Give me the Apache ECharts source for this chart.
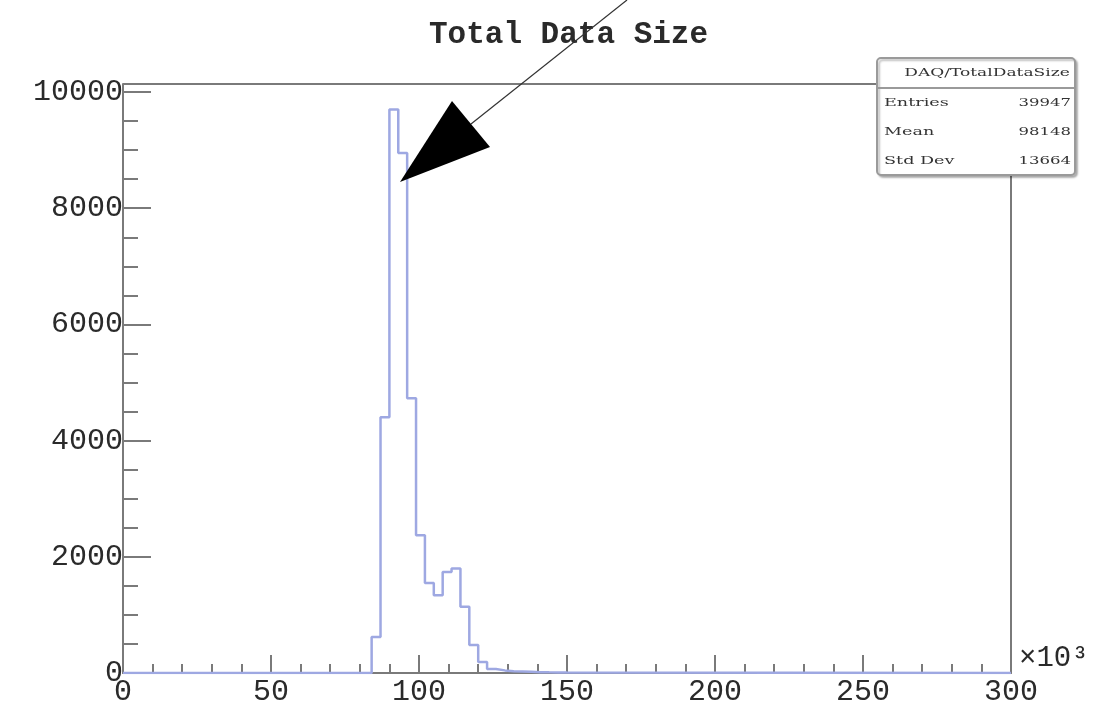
<!DOCTYPE html>
<html style="height: 100%">
<head>
    <meta charset="utf-8">
</head>
<body style="height: 100%; margin: 0; background: #fff">
<div id="container" style="width: 1118px; height: 703px; filter: blur(0.6px);"></div>
<script type="text/javascript" src="https://cdn.jsdelivr.net/npm/echarts@6/dist/echarts.min.js"></script>
<script type="text/javascript">
// bin lower edges (x10^3) and entries per bin, step drawn to next edge
var binEdges = [0, 84, 87, 90, 93, 96, 99, 102, 105, 108, 111, 114, 117, 120, 123, 126, 129, 132, 135, 138, 141, 144, 147, 150, 300];
var binCounts = [0, 620, 4400, 9700, 8950, 4730, 2370, 1550, 1340, 1740, 1800, 1140, 480, 190, 70, 45, 30, 25, 20, 15, 12, 10, 8, 0, 0];

var xTicks = [0, 50, 100, 150, 200, 250, 300];
var yTicks = [0, 2000, 4000, 6000, 8000, 10000];

var statsTitle = 'DAQ/TotalDataSize';
var statsNames = ['Entries', 'Mean', 'Std Dev'];
var statsValues = ['39947', '98148', '13664'];

var dom = document.getElementById('container');
var myChart = echarts.init(dom);

var font = 'Liberation Mono';
var axisGray = '#7a7a7a';
var textColor = '#2a2a2a';

var histData = binEdges.map(function (x, i) { return [x, binCounts[i]]; });

function statText(str, x, y, align, sx) {
    return {
        type: 'text', x: x, y: y, scaleX: sx || 1.5, z: 120,
        style: { text: str, x: 0, y: 0, align: align || 'left', verticalAlign: 'middle',
                 font: '11px "DejaVu Serif"', fill: '#333' }
    };
}

var statsItems = [
    { type: 'rect', z: 110, shape: { x: 877, y: 58, width: 198, height: 117, r: 4 },
      style: { fill: '#fff', stroke: '#9a9a9a', lineWidth: 2,
               shadowColor: 'rgba(0,0,0,0.25)', shadowOffsetX: 2, shadowOffsetY: 2, shadowBlur: 2 } },
    { type: 'line', z: 115, shape: { x1: 877, y1: 88, x2: 1075, y2: 88 },
      style: { stroke: '#9a9a9a', lineWidth: 2 } },
    statText(statsTitle, 987, 73, 'center', 1.55)
];
statsNames.forEach(function (n, i) {
    var y = 103 + i * 29;
    statsItems.push(statText(n, 884, y, 'left', 1.6));
    statsItems.push(statText(statsValues[i], 1071, y, 'right', 1.5));
});

var option = {
    animation: false,
    title: {
        text: 'Total Data Size',
        left: 424,
        top: 15,
        textStyle: { fontFamily: font, fontSize: 31, fontWeight: 'bold', color: textColor }
    },
    grid: { left: 123, right: 107, top: 92, bottom: 30, containLabel: false, outerBoundsMode: 'none' },
    xAxis: [{
        type: 'value',
        min: 0, max: 300, interval: 50,
        name: '\u00d710\u00b3',
        nameLocation: 'end',
        nameGap: 8,
        nameTextStyle: { fontFamily: font, fontSize: 29, color: textColor, verticalAlign: 'bottom' },
        axisLine: { onZero: false, lineStyle: { color: axisGray, width: 2 } },
        axisTick: { inside: true, length: 18, lineStyle: { color: axisGray, width: 2 } },
        minorTick: { show: true, splitNumber: 5, length: 9, lineStyle: { color: axisGray, width: 2 } },
        axisLabel: {
            margin: 4, fontFamily: font, fontSize: 30, color: textColor,
            customValues: xTicks,
            formatter: function (v) { return String(v); }
        },
        splitLine: { show: false }
    }, {
        type: 'value',
        position: 'top',
        offset: 8,
        min: 0, max: 300,
        axisLine: { show: true, onZero: false, lineStyle: { color: axisGray, width: 2 } },
        axisTick: { show: false },
        axisLabel: { show: false },
        splitLine: { show: false }
    }],
    yAxis: [{
        type: 'value',
        min: 0, max: 10000, interval: 2000,
        axisLine: { show: true, onZero: false, lineStyle: { color: axisGray, width: 2 } },
        axisTick: { inside: true, length: 28, lineStyle: { color: axisGray, width: 2 } },
        minorTick: { show: true, splitNumber: 4, length: 15, lineStyle: { color: axisGray, width: 2 } },
        axisLabel: {
            margin: 0, fontFamily: font, fontSize: 30, color: textColor,
            customValues: yTicks,
            formatter: function (v) { return String(v); }
        },
        splitLine: { show: false }
    }, {
        type: 'value',
        position: 'right',
        min: 0, max: 10000,
        axisLine: { show: true, onZero: false, lineStyle: { color: axisGray, width: 2 } },
        axisTick: { show: false },
        axisLabel: { show: false },
        splitLine: { show: false }
    }],
    series: [{
        type: 'line',
        step: 'end',
        showSymbol: false,
        data: histData,
        lineStyle: { color: '#9ea8e2', width: 2.5 }
    }],
    graphic: [
        { type: 'line', z: 100, shape: { x1: 123, y1: 84, x2: 123, y2: 92 },
          style: { stroke: axisGray, lineWidth: 2 } },
        { type: 'polyline', shape: { points: [[627, 0], [471, 124]] },
          style: { stroke: '#333', lineWidth: 1.2, fill: null }, z: 100 },
        { type: 'polygon', shape: { points: [[400, 182], [452, 101], [490, 147]] },
          style: { fill: '#000' }, z: 100 },
        { type: 'group', children: statsItems }
    ]
};

myChart.setOption(option);
</script>
</body>
</html>
